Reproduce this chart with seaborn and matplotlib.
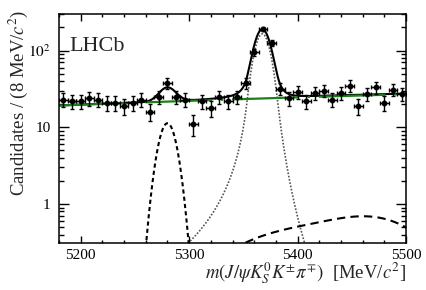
import numpy as np
import pandas as pd
import matplotlib
matplotlib.use("Agg")
import matplotlib.pyplot as plt
import matplotlib.ticker as mticker
import seaborn as sns

# binned data (8 MeV bins)
bin_centers = np.arange(5184, 5500, 8)
counts = [23, 22, 22, 24, 23, 21, 21, 19, 21, 23,
          16, 25, 38, 25, 23, 11, 22, 18, 25, 22,
          25, 38, 95, 191, 125, 32, 24, 29, 22, 28,
          30, 23, 28, 35, 19, 27, 33, 21, 31, 27]

# fit parameters
bkg_left, bkg_right = 19.2, 27.0          # combinatorial, at 5180 / 5500
b0_mean, b0_sigma, b0_amp = 5280.0, 7.3, 11.3
bs_mean, bs_sigma, bs_amp = 5367.5, 7.0, 165.0
bs_tail = (2.0, 1.95, 2.0, 4.5)           # alphaL, nL, alphaR, nR
pr_means = [5395.0, 5475.0]
pr_sigmas = [55.0, 40.0]
pr_amps = [0.42, 0.52]

sns.set_theme(style="ticks")
plt.rcParams["font.family"] = ["Liberation Serif", "DejaVu Serif"]
plt.rcParams["mathtext.fontset"] = "stix"


def crystal_ball(x, mu, sig, amp, aL, nL, aR, nR):
    t = (x - mu) / sig
    out = np.exp(-0.5 * t ** 2)
    AL = (nL / aL) ** nL * np.exp(-0.5 * aL ** 2)
    BL = nL / aL - aL
    AR = (nR / aR) ** nR * np.exp(-0.5 * aR ** 2)
    BR = nR / aR - aR
    lo = t < -aL
    hi = t > aR
    out[lo] = AL * (BL - t[lo]) ** (-nL)
    out[hi] = AR * (BR + t[hi]) ** (-nR)
    return amp * out


m = np.linspace(5180, 5500, 800)
bkg = bkg_left + (bkg_right - bkg_left) * (m - 5180) / 320
b0 = b0_amp * np.exp(-0.5 * ((m - b0_mean) / b0_sigma) ** 2)
bs = crystal_ball(m, bs_mean, bs_sigma, bs_amp, *bs_tail)
pr = sum(a * np.exp(-0.5 * ((m - mu) / s) ** 2)
         for mu, s, a in zip(pr_means, pr_sigmas, pr_amps))
total = bkg + b0 + bs + pr

curves = pd.DataFrame({"m": m, "bkg": bkg, "b0": b0, "bs": bs, "pr": pr, "total": total})

fig = plt.figure(figsize=(4.27, 2.9), dpi=100)
ax = fig.add_axes([0.138, 0.161, 0.813, 0.791])

sns.lineplot(data=curves, x="m", y="bs", ax=ax, color="#555555", lw=1.2, linestyle=(0, (1, 1)))
sns.lineplot(data=curves, x="m", y="b0", ax=ax, color="black", lw=1.5, linestyle=(0, (2, 1.5)))
sns.lineplot(data=curves, x="m", y="pr", ax=ax, color="black", lw=1.5, linestyle=(0, (4, 2.5)))
sns.lineplot(data=curves, x="m", y="total", ax=ax, color="black", lw=1.5)
sns.lineplot(data=curves, x="m", y="bkg", ax=ax, color="#1a801a", lw=1.6, linestyle=(0, (30, 4, 1, 4)))

counts = np.array(counts)
ax.errorbar(bin_centers, counts, yerr=np.sqrt(counts), xerr=4, fmt="o", color="black",
            ms=3.2, elinewidth=1.0, capsize=1.2, capthick=1.0)

ax.set_yscale("log")
ax.set_xlim(5180, 5500)
ax.set_ylim(0.308, 300)
ax.xaxis.set_major_locator(mticker.MultipleLocator(100))
ax.xaxis.set_minor_locator(mticker.MultipleLocator(20))
ax.yaxis.set_major_locator(mticker.FixedLocator([1, 10, 100]))
ax.yaxis.set_major_formatter(mticker.FixedFormatter(["1", "10", r"$10^2$"]))
ax.yaxis.set_minor_locator(mticker.LogLocator(subs=np.arange(2, 10)))
ax.yaxis.set_minor_formatter(mticker.NullFormatter())

ax.tick_params(which="both", direction="in", top=True, right=True, labelsize=11, colors="black")
ax.tick_params(axis="x", which="major", length=5, width=1, pad=4)
ax.tick_params(axis="x", which="minor", length=2.5, width=1)
ax.tick_params(axis="y", which="major", length=7, width=1, pad=6)
ax.tick_params(axis="y", which="minor", length=3.5, width=1)
for s in ax.spines.values():
    s.set_linewidth(1.1)
    s.set_color("black")

ax.set_xlabel(r"$m(J/\psi K^0_S K^{\pm}\pi^{\mp})$  [MeV/$c^2$]", fontsize=13.5, loc="right")
ax.xaxis.set_label_coords(1.0, -0.075)
ax.set_ylabel("")
fig.text(0.042, 0.968, r"Candidates / (8 MeV/$c^2$)", fontsize=13.5,
         rotation=90, ha="center", va="top")

ax.text(0.03, 0.9, "LHCb", transform=ax.transAxes, fontsize=16, va="top", ha="left")

fig.savefig("out.png", dpi=100)
